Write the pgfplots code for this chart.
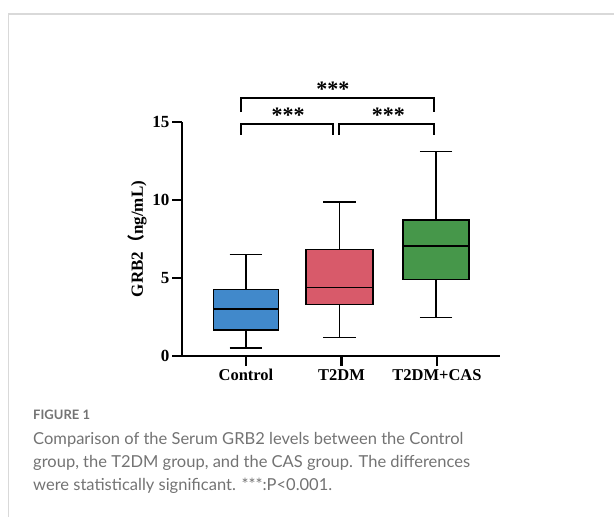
\documentclass[border=0pt]{standalone}
\usepackage{fontspec}
\setmainfont{Liberation Serif}
\newfontfamily\capfont{Lato}
\newfontfamily\cjk{Noto Sans CJK SC}
\usepackage{pgfplots}
\pgfplotsset{compat=1.18}
\usepgfplotslibrary{statistics}

\definecolor{ctrlblue}{HTML}{4189CB}
\definecolor{t2red}{HTML}{D85A6A}
\definecolor{casgreen}{HTML}{46974A}
\definecolor{capgray}{HTML}{737373}
\definecolor{framegray}{HTML}{D9D9D9}

\begin{document}
\begin{tikzpicture}[x=1pt,y=1pt]
  \useasboundingbox (0,0) rectangle (614,517);
  % figure frame (top and left edges only)
  \draw[framegray, line width=1.5pt] (8.5,0) -- (8.5,503) -- (614,503);

  \begin{axis}[
      at={(182pt,161pt)}, anchor=south west,
      scale only axis, width=318pt, height=234pt,
      xmin=0.33, xmax=3.66, ymin=0, ymax=15,
      axis lines=left,
      axis line style={-, line width=2.8pt},
      clip=false,
      boxplot/draw direction=y,
      xtick={1,2,3},
      xticklabels={Control, T2DM, T2DM+CAS},
      ytick={0,5,10,15},
      yticklabel={\pgfmathparse{int(\tick)}\textbf{\pgfmathresult}},
      tick align=outside,
      major tick length=10pt,
      tick style={black, line width=2.8pt},
      xticklabel style={font=\fontsize{16.5}{18}\selectfont\bfseries},
      yticklabel style={font=\fontsize{17}{18}\selectfont\bfseries, xshift=1pt},
      ylabel={\fontsize{17}{18}\selectfont\bfseries GRB2{\cjk （}ng/mL)},
      ylabel style={yshift=-1pt},
    ]
    % Control
    \addplot+[boxplot prepared={
        lower whisker=0.51, lower quartile=1.67, median=3.01,
        upper quartile=4.25, upper whisker=6.52,
        draw position=1, box extend=0.68, whisker extend=0.34},
      fill=ctrlblue, draw=black, line width=1.4pt, mark=none] coordinates {};
    % T2DM
    \addplot+[boxplot prepared={
        lower whisker=1.20, lower quartile=3.31, median=4.38,
        upper quartile=6.84, upper whisker=9.87,
        draw position=1.98, box extend=0.70, whisker extend=0.34},
      fill=t2red, draw=black, line width=1.4pt, mark=none] coordinates {};
    % T2DM+CAS
    \addplot+[boxplot prepared={
        lower whisker=2.48, lower quartile=4.92, median=7.05,
        upper quartile=8.72, upper whisker=13.10,
        draw position=2.99, box extend=0.69, whisker extend=0.34},
      fill=casgreen, draw=black, line width=1.4pt, mark=none] coordinates {};

    % significance brackets
    \draw[line width=2.6pt] (axis cs:0.948,14.17) -- (axis cs:0.948,14.87) -- (axis cs:1.911,14.87) -- (axis cs:1.911,14.17);
    \draw[line width=2.6pt] (axis cs:1.974,14.17) -- (axis cs:1.974,14.87) -- (axis cs:2.969,14.87) -- (axis cs:2.969,14.17);
    \draw[line width=2.6pt] (axis cs:0.948,15.64) -- (axis cs:0.948,16.54) -- (axis cs:2.969,16.54) -- (axis cs:2.969,15.64);
    \node[font=\fontsize{22}{22}\selectfont\bfseries, anchor=base] at (axis cs:1.44,14.95) {***};
    \node[font=\fontsize{22}{22}\selectfont\bfseries, anchor=base] at (axis cs:2.49,14.95) {***};
    \node[font=\fontsize{22}{22}\selectfont\bfseries, anchor=base] at (axis cs:1.91,16.62) {***};
  \end{axis}

  % caption
  \node[anchor=base west, inner sep=0, text=capgray, font=\capfont\bfseries\fontsize{13}{15}\selectfont] at (33,97) {FIGURE 1};
  \node[anchor=base west, inner sep=0, text=capgray, font=\capfont\fontsize{16.5}{20}\selectfont] at (33,72) {Comparison of the Serum GRB2 levels between the Control};
  \node[anchor=base west, inner sep=0, text=capgray, font=\capfont\fontsize{16.5}{20}\selectfont] at (33,49) {group, the T2DM group, and the CAS group. The differences};
  \node[anchor=base west, inner sep=0, text=capgray, font=\capfont\fontsize{16.5}{20}\selectfont] at (33,26) {were statistically significant. ***:P<0.001.};
\end{tikzpicture}
\end{document}
